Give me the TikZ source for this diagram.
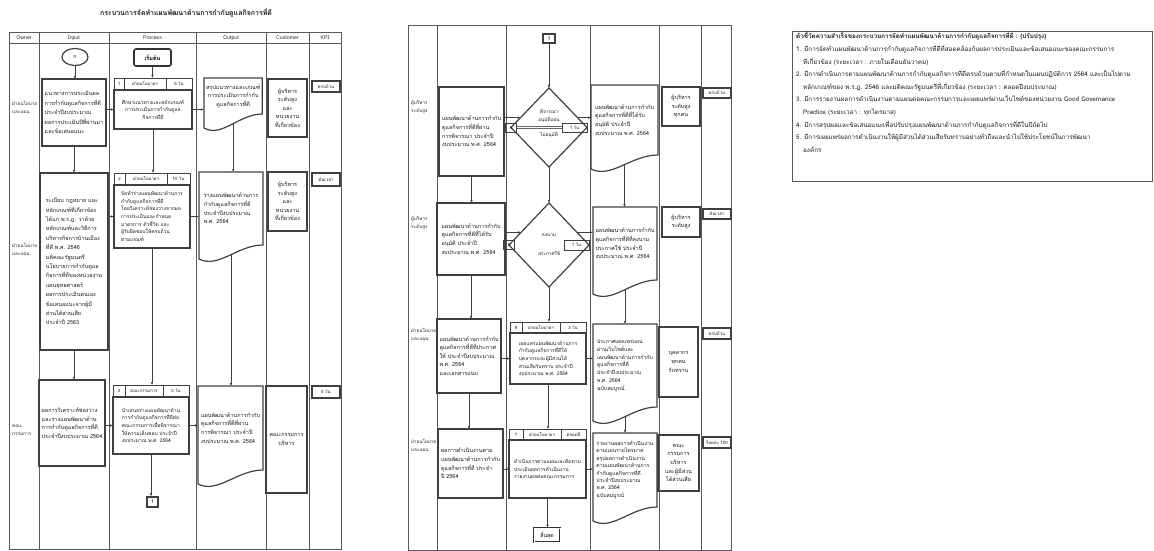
\documentclass[tikz,border=0pt]{standalone}
\usepackage{fontspec}
\setmainfont[Script=Thai]{Loma}
\usetikzlibrary{positioning,calc,shapes.geometric,arrows.meta}

% document symbol: the node gives the upper part, the wave hangs below it
\newcommand{\docwave}[1]{%
  \draw[draw=black!75,line width=1.2pt] (#1.north west) -- (#1.north east) -- (#1.south east)
    .. controls ($(#1.south west)!.6!(#1.south east)$)
    and ($(#1.south west)!.3!(#1.south east)+(0,-24pt)$)
    .. ([yshift=-14pt]#1.south west) -- cycle;}

\begin{document}
\begin{tikzpicture}[x=1pt,y=-1pt,
  lane/.style={draw=black!65,line width=.9pt},
  box/.style={draw=black!75,line width=1.2pt,anchor=north west,inner sep=2pt,outer sep=0pt,
    align=left,text=black!90,font=\fontsize{5.5}{8.6}\selectfont},
  cbox/.style={box,align=center},
  pbox/.style={box,font=\fontsize{5}{7.6}\selectfont},
  doc/.style={box,draw=none},
  hcell/.style={draw=black!75,line width=.9pt,inner sep=0pt,outer sep=0pt,minimum height=12pt,
    text=black!90,font=\fontsize{4.4}{5}\selectfont},
  kpi/.style={box,align=center,inner sep=0pt,font=\fontsize{4.5}{5}\selectfont},
  owner/.style={anchor=west,align=left,inner sep=0pt,text=black!85,font=\fontsize{4.7}{8}\selectfont},
  head/.style={inner sep=0pt,text=black!85,font=\fontsize{5.2}{6}\selectfont},
  flow/.style={draw=black!75,line width=.9pt,-{Latex[length=3pt,width=2.6pt]}},
  dec/.style={draw=black!75,line width=1.2pt,shape=diamond,inner sep=0pt,outer sep=0pt},
  dtext/.style={inner sep=0pt,align=center,text=black!90,font=\fontsize{4.7}{7.5}\selectfont}]

\useasboundingbox (0,0) rectangle (1154,551);

% ---------------- sheet 1 ----------------
\node[text=black!90,font=\bfseries\fontsize{7}{8}\selectfont] (title) at (186,13)
  {กระบวนการจัดทำแผนพัฒนาด้านการกำกับดูแลกิจการที่ดี};

\draw[lane] (9,32) rectangle (341,549);
\draw[lane] (9,43) -- (341,43);
\foreach \x in {39,109,196,266,309} \draw[lane] (\x,32) -- (\x,549);

\node[head] (hOwner) at (24,38) {Owner};
\node[head] (hInput) at (74,38) {Input};
\node[head] (hProcess) at (152.5,38) {Process};
\node[head] (hOutput) at (231,38) {Output};
\node[head] (hCustomer) at (287.5,38) {Customer};
\node[head] (hKPI) at (325,38) {KPI};

\node[owner] (ow1) at (12,107) {ฝ่ายนโยบาย\\และแผน};
\node[owner] (ow2) at (12,249) {ฝ่ายนโยบาย\\และแผน};
\node[owner] (ow3) at (12,430) {คณะ\\กรรมการ};

\node[draw=black!75,line width=1.2pt,ellipse,minimum width=26pt,minimum height=17pt,inner sep=0pt,
  font=\fontsize{5}{6}\selectfont] (con1) at (75,57) {ก};
\node[draw=black!80,line width=1.6pt,rounded corners=2pt,minimum width=37pt,minimum height=17pt,
  inner sep=0pt,font=\bfseries\fontsize{5.5}{6}\selectfont] (st) at (152.5,57.5) {เริ่มต้น};

% row 1
\node[box,minimum width=64pt,minimum height=67pt,font=\fontsize{5.5}{9.6}\selectfont] (in1) at (42,79)
  {แนวทางการประเมินผล\\การกำกับดูแลกิจการที่ดี\\ประจำปีงบประมาณ\\ผลการประเมินปีที่ผ่านมา\\และข้อเสนอแนะ};
\node[pbox,align=center,minimum width=78pt,minimum height=39pt] (pr1) at (114,90)
  {ศึกษาแนวทางและหลักเกณฑ์\\การประเมินการกำกับดูแล\\กิจการที่ดี};
\node[hcell,minimum width=10pt,anchor=south west] (pr1a) at (pr1.north west) {1};
\node[hcell,minimum width=42pt,right=0pt of pr1a] (pr1b) {ฝ่ายนโยบายฯ};
\node[hcell,minimum width=26pt,right=0pt of pr1b] (pr1c) {5 วัน};
\node[doc,align=center,minimum width=58pt,minimum height=36pt] (out1) at (204,78)
  {สรุปแนวทางและเกณฑ์\\การประเมินการกำกับ\\ดูแลกิจการที่ดี};
\docwave{out1}
\node[cbox,minimum width=39pt,minimum height=58pt] (cu1) at (268,79)
  {ผู้บริหาร\\ระดับสูง\\และ\\หน่วยงาน\\ที่เกี่ยวข้อง};
\node[kpi,minimum width=28pt,minimum height=11pt] (kp1) at (312,81) {ครบถ้วน};

% row 2
\node[box,minimum width=68pt,minimum height=177pt,font=\fontsize{5.5}{9.4}\selectfont] (in2) at (40,173)
  {ระเบียบ กฎหมาย และ\\หลักเกณฑ์ที่เกี่ยวข้อง\\ได้แก่ พ.ร.ฎ. ว่าด้วย\\หลักเกณฑ์และวิธีการ\\บริหารกิจการบ้านเมือง\\ที่ดี พ.ศ. 2546\\มติคณะรัฐมนตรี\\นโยบายการกำกับดูแล\\กิจการที่ดีของหน่วยงาน\\แผนยุทธศาสตร์\\ผลการประเมินตนเอง\\ข้อเสนอแนะจากผู้มี\\ส่วนได้ส่วนเสีย\\ประจำปี 2563};
\node[pbox,minimum width=76pt,minimum height=63pt] (pr2) at (114,185)
  {จัดทำร่างแผนพัฒนาด้านการ\\กำกับดูแลกิจการที่ดี\\โดยวิเคราะห์ช่องว่างจากผล\\การประเมินและกำหนด\\มาตรการ ตัวชี้วัด และ\\ผู้รับผิดชอบให้ครบถ้วน\\ตามเกณฑ์};
\node[hcell,minimum width=11pt,anchor=south west] (pr2a) at (pr2.north west) {2};
\node[hcell,minimum width=42pt,right=0pt of pr2a] (pr2b) {ฝ่ายนโยบายฯ};
\node[hcell,minimum width=23pt,right=0pt of pr2b] (pr2c) {10 วัน};
\node[doc,minimum width=64pt,minimum height=73pt] (out2) at (199,172)
  {ร่างแผนพัฒนาด้านการ\\กำกับดูแลกิจการที่ดี\\ประจำปีงบประมาณ\\พ.ศ. 2564};
\docwave{out2}
\node[cbox,minimum width=39pt,minimum height=59pt] (cu2) at (268,172)
  {ผู้บริหาร\\ระดับสูง\\และ\\หน่วยงาน\\ที่เกี่ยวข้อง};
\node[kpi,minimum width=28pt,minimum height=13pt] (kp2) at (312,173) {ทันเวลา};

% row 3
\node[box,minimum width=66pt,minimum height=86pt] (in3) at (39,380)
  {ผลการวิเคราะห์ช่องว่าง\\และร่างแผนพัฒนาด้าน\\การกำกับดูแลกิจการที่ดี\\ประจำปีงบประมาณ 2564};
\node[pbox,minimum width=76pt,minimum height=57pt] (pr3) at (113,397)
  {นำเสนอร่างแผนพัฒนาด้าน\\การกำกับดูแลกิจการที่ดีต่อ\\คณะกรรมการเพื่อพิจารณา\\ให้ความเห็นชอบ ประจำปี\\งบประมาณ พ.ศ. 2564};
\node[hcell,minimum width=12pt,anchor=south west] (pr3a) at (pr3.north west) {3};
\node[hcell,minimum width=38pt,right=0pt of pr3a] (pr3b) {คณะกรรมการ};
\node[hcell,minimum width=26pt,right=0pt of pr3b] (pr3c) {5 วัน};
\node[doc,minimum width=65pt,minimum height=84pt] (out3) at (198,386)
  {แผนพัฒนาด้านการกำกับ\\ดูแลกิจการที่ดีที่ผ่าน\\การพิจารณา ประจำปี\\งบประมาณ พ.ศ. 2564};
\docwave{out3}
\node[cbox,minimum width=41pt,minimum height=107pt] (cu3) at (266,386) {คณะกรรมการ\\บริหาร};
\node[kpi,minimum width=28pt,minimum height=12pt] (kp3) at (312,386) {5 วัน};

\node[draw=black!75,line width=1.2pt,minimum width=11pt,minimum height=10pt,inner sep=0pt,
  font=\fontsize{5}{6}\selectfont] (cn1) at (152.5,502) {1};

\draw[flow] (con1.south) -- (con1.south |- in1.north);
\draw[flow] (st.south) -- (st.south |- pr1b.north);
\draw[flow] (in1.south) -- (in1.south |- in2.north);
\draw[flow] (in2.south) -- (in2.south |- in3.north);
\draw[flow] (pr1.south) -- (pr1.south |- pr2b.north);
\draw[flow] (pr2.south) -- (pr2.south |- pr3b.north);
\draw[flow] (pr3.south) -- (pr3.south |- cn1.north);
\coordinate (o1) at ([yshift=-10pt]out1.south);
\coordinate (o2) at ([yshift=-10pt]out2.south);
\draw[flow] (o1) -- (o1 |- out2.north);
\draw[flow] (o2) -- (o2 |- out3.north);
\draw[flow] (in1.east |- pr1.west) -- (pr1.west);
\draw[flow] (pr1.east) -- (pr1.east -| out1.west);
\draw[flow] (in2.east |- pr2.west) -- (pr2.west);
\draw[flow] (pr2.east) -- (pr2.east -| out2.west);
\draw[flow] (in3.east |- pr3.west) -- (pr3.west);
\draw[flow] (pr3.east) -- (pr3.east -| out3.west);

% ---------------- sheet 2 ----------------
\draw[lane] (408,25) rectangle (731,550);
\foreach \x in {437,506,590,659,701} \draw[lane] (\x,25) -- (\x,550);

\node[owner] (ow5) at (411,107) {ผู้บริหาร\\ระดับสูง};
\node[owner] (ow6) at (411,223) {ผู้บริหาร\\ระดับสูง};
\node[owner] (ow7) at (411,334) {ฝ่ายนโยบาย\\และแผน};
\node[owner] (ow8) at (411,445) {ฝ่ายนโยบาย\\และแผน};

\node[draw=black!75,line width=1.2pt,minimum width=12pt,minimum height=9pt,inner sep=0pt,
  font=\fontsize{5}{6}\selectfont] (cn2) at (549,38.5) {1};

% row 1
\node[box,minimum width=65pt,minimum height=89pt] (in5) at (439,87)
  {แผนพัฒนาด้านการกำกับ\\ดูแลกิจการที่ดีที่ผ่าน\\การพิจารณา ประจำปี\\งบประมาณ พ.ศ. 2564};
\node[dec,minimum width=76pt,minimum height=79pt] (d1) at (549,127.5) {};
\node[hcell,minimum width=11pt,minimum height=9pt] (d1a) at (d1.west) {4};
\node[hcell,minimum width=25pt,minimum height=9pt,anchor=east] (d1c) at (d1.east) {1 วัน};
\draw[draw=black!60,line width=.7pt,double,double distance=1.4pt] (d1a.east) -- (d1c.west);
\node[dtext,above=5pt of d1.center] (d1t) {พิจารณา\\อนุมัติแผน};
\node[dtext,below=5pt of d1.center] (d1u) {ไม่อนุมัติ};
\node[doc,minimum width=67pt,minimum height=70pt] (out5) at (591,85)
  {แผนพัฒนาด้านการกำกับ\\ดูแลกิจการที่ดีที่ได้รับ\\อนุมัติ ประจำปี\\งบประมาณ พ.ศ. 2564};
\docwave{out5}
\node[cbox,minimum width=38pt,minimum height=39pt] (cu5) at (662,87) {ผู้บริหาร\\ระดับสูง\\ทุกคน};
\node[kpi,minimum width=28pt,minimum height=10pt] (kp5) at (703,88) {ครบถ้วน};

% row 2
\node[box,minimum width=68pt,minimum height=72pt] (in6) at (437,203)
  {แผนพัฒนาด้านการกำกับ\\ดูแลกิจการที่ดีที่ได้รับ\\อนุมัติ ประจำปี\\งบประมาณ พ.ศ. 2564};
\node[dec,minimum width=80pt,minimum height=84pt] (d2) at (549,245) {};
\node[hcell,minimum width=11pt,minimum height=9pt] (d2a) at (d2.west) {5};
\node[hcell,minimum width=25pt,minimum height=10pt,anchor=east] (d2c) at (d2.east) {1 วัน};
\draw[draw=black!60,line width=.7pt,double,double distance=1.4pt] (d2a.east) -- (d2c.west);
\node[dtext,above=8pt of d2.center] (d2t) {ลงนาม};
\node[dtext,below=6pt of d2.center] (d2u) {ประกาศใช้};
\node[doc,minimum width=64pt,minimum height=73pt] (out6) at (593,207)
  {แผนพัฒนาด้านการกำกับ\\ดูแลกิจการที่ดีที่ลงนาม\\ประกาศใช้ ประจำปี\\งบประมาณ พ.ศ. 2564};
\docwave{out6}
\node[cbox,minimum width=38pt,minimum height=30pt] (cu6) at (662,207) {ผู้บริหาร\\ระดับสูง};
\node[kpi,minimum width=28pt,minimum height=10pt] (kp6) at (703,209) {ทันเวลา};

% row 3
\node[box,minimum width=64pt,minimum height=74pt] (in7) at (437,319)
  {แผนพัฒนาด้านการกำกับ\\ดูแลกิจการที่ดีที่ประกาศ\\ใช้ ประจำปีงบประมาณ\\พ.ศ. 2564\\และเอกสารแนบ};
\node[pbox,minimum width=76pt,minimum height=51pt] (pr7) at (510,333)
  {เผยแพร่แผนพัฒนาด้านการ\\กำกับดูแลกิจการที่ดีให้\\บุคลากรและผู้มีส่วนได้\\ส่วนเสียรับทราบ ประจำปี\\งบประมาณ พ.ศ. 2564};
\node[hcell,minimum width=12pt,minimum height=11pt,anchor=south west] (pr7a) at (pr7.north west) {6};
\node[hcell,minimum width=38pt,minimum height=11pt,right=0pt of pr7a] (pr7b) {ฝ่ายนโยบายฯ};
\node[hcell,minimum width=26pt,minimum height=11pt,right=0pt of pr7b] (pr7c) {3 วัน};
\node[doc,minimum width=64pt,minimum height=83pt,font=\fontsize{5.2}{7.8}\selectfont] (out7) at (593,324)
  {ประกาศเผยแพร่แผน\\ผ่านเว็บไซต์และ\\แผนพัฒนาด้านการกำกับ\\ดูแลกิจการที่ดี\\ประจำปีงบประมาณ\\พ.ศ. 2564\\ฉบับสมบูรณ์};
\docwave{out7}
\node[cbox,minimum width=39pt,minimum height=70pt] (cu7) at (659,327) {บุคลากร\\ทุกคน\\รับทราบ};
\node[kpi,minimum width=28pt,minimum height=11pt] (kp7) at (703,328) {ครบถ้วน};

% row 4
\node[box,minimum width=65pt,minimum height=69pt] (in8) at (438,429)
  {ผลการดำเนินงานตาม\\แผนพัฒนาด้านการกำกับ\\ดูแลกิจการที่ดี ประจำ\\ปี 2564};
\node[pbox,minimum width=77pt,minimum height=58pt] (pr8) at (509,440)
  {ดำเนินการตามแผนและติดตาม\\ประเมินผลการดำเนินงาน\\รายงานผลต่อคณะกรรมการ};
\node[hcell,minimum width=14pt,minimum height=11pt,anchor=south west] (pr8a) at (pr8.north west) {7};
\node[hcell,minimum width=38pt,minimum height=11pt,right=0pt of pr8a] (pr8b) {ฝ่ายนโยบายฯ};
\node[hcell,minimum width=25pt,minimum height=11pt,right=0pt of pr8b] (pr8c) {ตลอดปี};
\node[doc,minimum width=64pt,minimum height=74pt,font=\fontsize{5.2}{7.4}\selectfont] (out8) at (593,433)
  {รายงานผลการดำเนินงาน\\ตามแผนรายไตรมาส\\สรุปผลการดำเนินงาน\\ตามแผนพัฒนาด้านการ\\กำกับดูแลกิจการที่ดี\\ประจำปีงบประมาณ\\พ.ศ. 2564\\ฉบับสมบูรณ์};
\docwave{out8}
\node[cbox,minimum width=41pt,minimum height=56pt] (cu8) at (658,435)
  {คณะ\\กรรมการ\\บริหาร\\และผู้มีส่วน\\ได้ส่วนเสีย};
\node[kpi,minimum width=28pt,minimum height=11pt] (kp8) at (703,437) {ร้อยละ 100};

\node[draw=black!80,line width=.7pt,double,double distance=1pt,minimum width=26pt,minimum height=14pt,
  inner sep=0pt,font=\fontsize{5.2}{6}\selectfont] (en) at (547,535) {สิ้นสุด};

\coordinate (d1l) at ($(d1.west)!.25!(d1.north)$);
\coordinate (d1r) at ($(d1.east)!.25!(d1.north)$);
\coordinate (d2l) at ($(d2.west)!.3!(d2.north)$);
\coordinate (d2r) at ($(d2.east)!.3!(d2.north)$);
\coordinate (o5) at ([yshift=-10pt]out5.south);
\coordinate (o6) at ([yshift=-10pt]out6.south);
\coordinate (o7) at ([yshift=-10pt]out7.south);

\draw[flow] (cn2.south) -- (d1.north);
\draw[flow] (d1.south) -- (d2.north);
\draw[flow] (d2.south) -- (d2.south |- pr7b.north);
\draw[flow] (pr7.south) -- (pr7.south |- pr8b.north);
\draw[flow] (pr8.south) -- (pr8.south |- en.north);
\draw[flow] (in5.south) -- (in5.south |- in6.north);
\draw[flow] (in6.south) -- (in6.south |- in7.north);
\draw[flow] (in7.south) -- (in7.south |- in8.north);
\draw[flow] (o5) -- (o5 |- out6.north);
\draw[flow] (o6) -- (o6 |- out7.north);
\draw[flow] (o7) -- (o7 |- out8.north);
\draw[flow] (d1l -| in5.east) -- (d1l);
\draw[flow] (d1r) -- (d1r -| out5.west);
\draw[flow] (d2l -| in6.east) -- (d2l);
\draw[flow] (d2r) -- (d2r -| out6.west);
\draw[flow] (in7.east |- pr7.west) -- (pr7.west);
\draw[flow] (pr7.east) -- (pr7.east -| out7.west);
\draw[flow] (in8.east |- pr8.west) -- (pr8.west);
\draw[flow] (pr8.east) -- (pr8.east -| out8.west);

% ---------------- notes ----------------
\node[draw=black!65,line width=1pt,anchor=north west,minimum width=360pt,minimum height=150pt,
  inner sep=0pt] (notes) at (792,31) {};
\node[below right=1pt and 4pt of notes.north west,inner sep=0pt,align=left,text=black!90,
  font=\fontsize{6.3}{12.6}\selectfont] (notest)
  {\textbf{ตัวชี้วัดความสำเร็จของกระบวนการจัดทำแผนพัฒนาด้านการกำกับดูแลกิจการที่ดี : (ปรับปรุง)}\\
   1. มีการจัดทำแผนพัฒนาด้านการกำกับดูแลกิจการที่ดีที่สอดคล้องกับผลการประเมินและข้อเสนอแนะของคณะกรรมการ\\
   \hspace*{7pt}ที่เกี่ยวข้อง (ระยะเวลา : ภายในเดือนธันวาคม)\\
   2. มีการดำเนินการตามแผนพัฒนาด้านการกำกับดูแลกิจการที่ดีครบถ้วนตามที่กำหนดในแผนปฏิบัติการ 2564 และเป็นไปตาม\\
   \hspace*{7pt}หลักเกณฑ์ของ พ.ร.ฎ. 2546 และมติคณะรัฐมนตรีที่เกี่ยวข้อง (ระยะเวลา : ตลอดปีงบประมาณ)\\
   3. มีการรายงานผลการดำเนินงานตามแผนต่อคณะกรรมการและเผยแพร่ผ่านเว็บไซต์ของหน่วยงาน Good Governance\\
   \hspace*{7pt}Practice (ระยะเวลา : ทุกไตรมาส)\\
   4. มีการสรุปผลและข้อเสนอแนะเพื่อปรับปรุงแผนพัฒนาด้านการกำกับดูแลกิจการที่ดีในปีถัดไป\\
   5. มีการเผยแพร่ผลการดำเนินงานให้ผู้มีส่วนได้ส่วนเสียรับทราบอย่างทั่วถึงและนำไปใช้ประโยชน์ในการพัฒนา\\
   \hspace*{7pt}องค์กร};
\end{tikzpicture}
\end{document}
